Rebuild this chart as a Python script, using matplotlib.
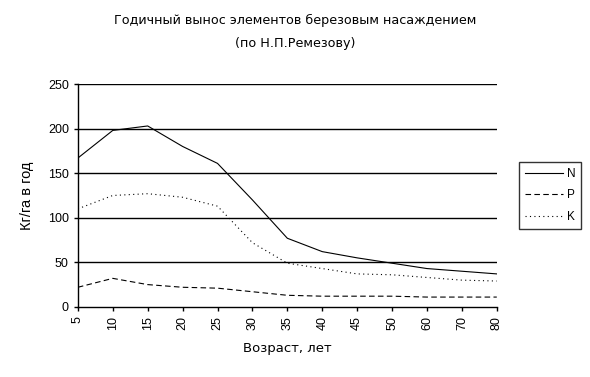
import matplotlib
matplotlib.use("Agg")
import matplotlib.pyplot as plt

plt.rcParams['font.family'] = ['Liberation Sans', 'DejaVu Sans']

# возраст насаждения, лет
ages = ['5', '10', '15', '20', '25', '30', '35', '40', '45', '50', '60', '70', '80']
n_vals = [167, 198, 203, 180, 161, 120, 77, 62, 55, 49, 43, 40, 37]
p_vals = [22, 32, 25, 22, 21, 17, 13, 12, 12, 12, 11, 11, 11]
k_vals = [110, 125, 127, 123, 113, 72, 49, 43, 37, 36, 33, 30, 29]


def main():
    fig = plt.figure(figsize=(5.9, 3.77), dpi=100)
    ax = fig.add_axes([0.132, 0.186, 0.710, 0.591])
    x = list(range(len(ages)))

    for v in [50, 100, 150, 200, 250]:
        ax.axhline(v, color='k', lw=1.0, zorder=1)

    ax.plot(x, n_vals, color='k', lw=0.8, ls='-', label='N')
    ax.plot(x, p_vals, color='k', lw=0.8, ls=(0, (5, 3)), label='P')
    ax.plot(x, k_vals, color='k', lw=0.8, ls=(0, (1, 3)), label='K')

    ax.set_xlim(0, len(ages) - 1)
    ax.set_ylim(0, 250)
    ax.set_xticks(x)
    ax.set_xticklabels(ages, rotation=90)
    ax.set_yticks([0, 50, 100, 150, 200, 250])
    ax.tick_params(labelsize=9, length=3, width=1, direction='out')
    for s in ['top', 'right']:
        ax.spines[s].set_visible(False)
    ax.spines['left'].set_linewidth(1)
    ax.spines['bottom'].set_linewidth(1)

    ax.set_ylabel('Кг/га в год', fontsize=10.5, labelpad=10)
    ax.set_xlabel('Возраст, лет', fontsize=9.5, family=['DejaVu Sans'], labelpad=9)
    fig.text(0.5, 0.947, 'Годичный вынос элементов березовым насаждением',
             ha='center', va='center', fontsize=9.2, family=['DejaVu Sans'])
    fig.text(0.5, 0.885, '(по Н.П.Ремезову)', ha='center', va='center',
             fontsize=9.2, family=['DejaVu Sans'])

    leg = ax.legend(loc='center left', bbox_to_anchor=(1.04, 0.5), fontsize=8.5,
                    frameon=True, fancybox=False, edgecolor='k', handlelength=3.2,
                    borderpad=0.5, labelspacing=0.8, handletextpad=0.3)
    leg.get_frame().set_linewidth(1)

    fig.savefig('out.png', dpi=100)


if __name__ == '__main__':
    main()
